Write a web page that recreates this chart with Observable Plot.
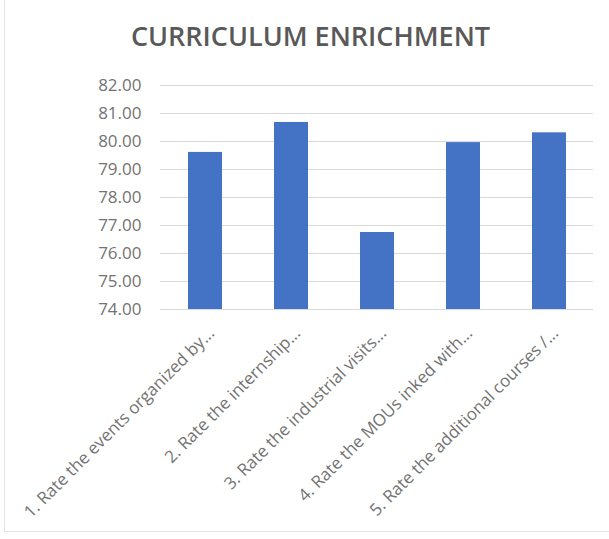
<!DOCTYPE html>
<html>
<head>
<meta charset="utf-8">
<script src="https://cdn.jsdelivr.net/npm/d3@7"></script>
<script src="https://cdn.jsdelivr.net/npm/@observablehq/plot@0.6"></script>
<style>
  html, body { margin: 0; padding: 0; background: #fff; }
  #wrap { width: 609px; height: 539px; position: relative; overflow: hidden; }
  #frame { position: absolute; left: 4px; top: -2px; width: 640px; height: 534px; border: 1px solid #e4e4e4; box-sizing: border-box; pointer-events: none; }
  #title { height: 62px; padding-top: 19px; box-sizing: border-box; text-align: center; font-family: "Open Sans", sans-serif;
           font-size: 27px; font-weight: 600; line-height: 34px; color: #595959; padding-left: 12px; }
  svg { display: block; }
</style>
</head>
<body>
<div id="wrap">
  <div id="frame"></div>
  <div id="title">CURRICULUM ENRICHMENT</div>
  <div id="chart"></div>
</div>
<script>
const categories = [
  "1. Rate the events organized by...",
  "2. Rate the internship...",
  "3. Rate the industrial visits...",
  "4. Rate the MOUs inked with...",
  "5. Rate the additional courses /..."
];
const values = [79.61, 80.68, 76.75, 79.96, 80.31];
const yTicks = [74, 75, 76, 77, 78, 79, 80, 81, 82];

const data = categories.map((c, i) => ({category: c, value: values[i]}));

const chart = Plot.plot({
  width: 609,
  height: 477,
  marginTop: 23,
  marginBottom: 230,
  marginLeft: 160,
  marginRight: 16,
  style: {fontFamily: "Open Sans, sans-serif", fontSize: "17px", color: "#666", background: "transparent"},
  x: {domain: categories, paddingInner: 0.61, paddingOuter: 0.305, label: null},
  y: {domain: [yTicks[0], yTicks[yTicks.length - 1]], ticks: yTicks, label: null},
  marks: [
    Plot.gridY(yTicks, {stroke: "#d9d9d9", strokeOpacity: 1, strokeWidth: 1.2}),
    Plot.axisY({ticks: yTicks, tickFormat: d3.format(".2f"), tickSize: 0, tickPadding: 19, fontSize: 17, label: null, fill: "#737373"}),
    Plot.barY(data, {x: "category", y1: () => yTicks[0], y2: "value", fill: "#4472c4"}),
    Plot.axisX({tickRotate: -45, tickSize: 0, tickPadding: 16, dx: 6, dy: 5, fontSize: 17, label: null, textAnchor: "end", fill: "#737373"})
  ]
});
document.getElementById("chart").appendChild(chart);
</script>
</body>
</html>
